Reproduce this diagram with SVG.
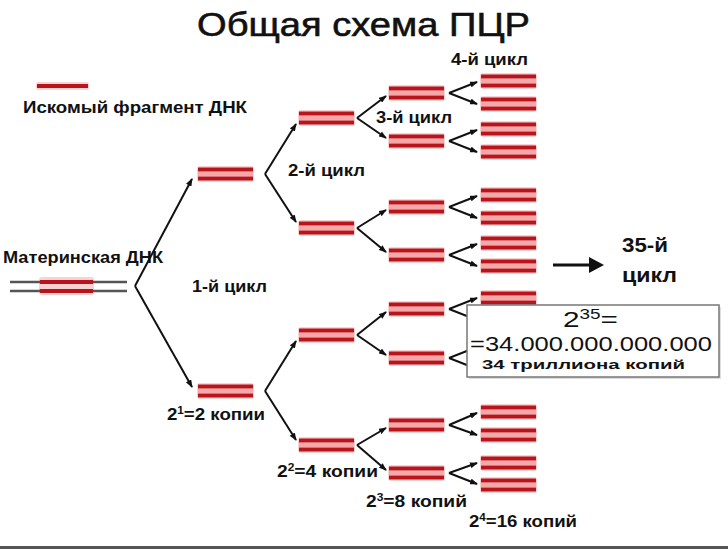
<svg xmlns="http://www.w3.org/2000/svg" xmlns:xlink="http://www.w3.org/1999/xlink" width="728" height="549" viewBox="0 0 728 549">
<style>
.t{font-family:"Liberation Sans",Arial,sans-serif;fill:#111}
.b{font-weight:bold}
.c{stroke:#111;stroke-width:2;fill:none;marker-end:url(#ah)}
.s{stroke:#b8141c;stroke-width:3.8}
.g{stroke:#555;stroke-width:2.5}
</style>
<defs>
<marker id="ah" markerUnits="userSpaceOnUse" markerWidth="8" markerHeight="6" refX="7" refY="3" orient="auto">
<path d="M0,0 L8,3 L0,6 z" fill="#111"/>
</marker>
<g id="frag">
<rect x="-1" y="-8" width="57" height="16" rx="3" fill="#fbd2d2"/>
<rect x="0" y="-2" width="55" height="4" fill="#f6a8a8"/>
<line class="s" x1="0" y1="-4.5" x2="55" y2="-4.5"/>
<line class="s" x1="0" y1="4.5" x2="55" y2="4.5"/>
</g>
</defs>
<rect width="728" height="549" fill="#fff"/>
<rect x="0" y="546" width="728" height="3" fill="#555"/>

<text class="t" x="197" y="36" font-size="34" stroke="#111" stroke-width="0.6" textLength="333" lengthAdjust="spacingAndGlyphs">Общая схема ПЦР</text>

<g id="legend">
<rect x="36" y="82" width="53" height="8" rx="2" fill="#fbd2d2"/>
<line class="s" x1="37" y1="86" x2="88" y2="86"/>
<text class="t b" x="23" y="113" font-size="16" textLength="224" lengthAdjust="spacingAndGlyphs">Искомый фрагмент ДНК</text>
</g>

<g id="mother">
<text class="t b" x="3" y="263" font-size="16" textLength="160" lengthAdjust="spacingAndGlyphs">Материнская ДНК</text>
<rect x="39" y="277" width="55" height="18" rx="3" fill="#fbd2d2"/>
<line class="g" x1="10" y1="282" x2="127" y2="282"/>
<line class="g" x1="10" y1="291" x2="127" y2="291"/>
<line class="s" x1="40" y1="282" x2="93" y2="282"/>
<line class="s" x1="40" y1="291" x2="93" y2="291"/>
</g>

<g id="connectors">
<path class="c" d="M135,286 L192,179"/>
<path class="c" d="M135,286 L192,387"/>
<path class="c" d="M265,174 L296,124"/>
<path class="c" d="M265,174 L296,222"/>
<path class="c" d="M265,391 L296,341"/>
<path class="c" d="M265,391 L296,440"/>
<path class="c" d="M357,118 L386,96"/>
<path class="c" d="M357,118 L386,138"/>
<path class="c" d="M357,228 L386,210"/>
<path class="c" d="M357,228 L386,252"/>
<path class="c" d="M357,335 L386,312"/>
<path class="c" d="M357,335 L386,355"/>
<path class="c" d="M357,445 L386,428"/>
<path class="c" d="M357,445 L386,470"/>
<path class="c" d="M449,93 L477,82"/>
<path class="c" d="M449,93 L477,104"/>
<path class="c" d="M449,141 L477,130"/>
<path class="c" d="M449,141 L477,152"/>
<path class="c" d="M449,207 L477,196"/>
<path class="c" d="M449,207 L477,218"/>
<path class="c" d="M449,255 L477,244"/>
<path class="c" d="M449,255 L477,266"/>
<path class="c" d="M449,309 L477,298"/>
<path class="c" d="M449,309 L477,320"/>
<path class="c" d="M449,358 L477,347"/>
<path class="c" d="M449,358 L477,369"/>
<path class="c" d="M449,425 L477,413"/>
<path class="c" d="M449,425 L477,435"/>
<path class="c" d="M449,473 L477,463"/>
<path class="c" d="M449,473 L477,484"/>
</g>

<g id="c1a"><use xlink:href="#frag" x="198" y="174"/></g>
<g id="c1b"><use xlink:href="#frag" x="198" y="391"/></g>
<g id="c2a"><use xlink:href="#frag" x="299" y="118"/></g>
<g id="c2b"><use xlink:href="#frag" x="299" y="228"/></g>
<g id="c2c"><use xlink:href="#frag" x="299" y="335"/></g>
<g id="c2d"><use xlink:href="#frag" x="299" y="445"/></g>
<g id="c3a"><use xlink:href="#frag" x="389" y="93"/></g>
<g id="c3b"><use xlink:href="#frag" x="389" y="141"/></g>
<g id="c3c"><use xlink:href="#frag" x="389" y="207"/></g>
<g id="c3d"><use xlink:href="#frag" x="389" y="255"/></g>
<g id="c3e"><use xlink:href="#frag" x="389" y="309"/></g>
<g id="c3f"><use xlink:href="#frag" x="389" y="358"/></g>
<g id="c3g"><use xlink:href="#frag" x="389" y="425"/></g>
<g id="c3h"><use xlink:href="#frag" x="389" y="473"/></g>
<g id="c4a"><use xlink:href="#frag" x="481" y="81"/></g>
<g id="c4b"><use xlink:href="#frag" x="481" y="104"/></g>
<g id="c4c"><use xlink:href="#frag" x="481" y="129"/></g>
<g id="c4d"><use xlink:href="#frag" x="481" y="152"/></g>
<g id="c4e"><use xlink:href="#frag" x="481" y="195"/></g>
<g id="c4f"><use xlink:href="#frag" x="481" y="218"/></g>
<g id="c4g"><use xlink:href="#frag" x="481" y="243"/></g>
<g id="c4h"><use xlink:href="#frag" x="481" y="266"/></g>
<g id="c4i"><use xlink:href="#frag" x="481" y="298"/></g>
<g id="c4m"><use xlink:href="#frag" x="481" y="412"/></g>
<g id="c4n"><use xlink:href="#frag" x="481" y="435"/></g>
<g id="c4o"><use xlink:href="#frag" x="481" y="463"/></g>
<g id="c4p"><use xlink:href="#frag" x="481" y="485"/></g>

<g id="labels">
<text class="t b" x="192" y="292" font-size="16" textLength="75" lengthAdjust="spacingAndGlyphs">1-й цикл</text>
<text class="t b" x="288" y="176" font-size="16" textLength="77" lengthAdjust="spacingAndGlyphs">2-й цикл</text>
<text class="t b" x="376" y="123" font-size="16" textLength="76" lengthAdjust="spacingAndGlyphs">3-й цикл</text>
<text class="t b" x="451" y="65" font-size="16" textLength="77" lengthAdjust="spacingAndGlyphs">4-й цикл</text>
<text class="t b" x="167" y="420" font-size="16" textLength="98" lengthAdjust="spacingAndGlyphs">2<tspan font-size="10" dy="-6">1</tspan><tspan dy="6">=2 копии</tspan></text>
<text class="t b" x="277" y="477" font-size="16" textLength="101" lengthAdjust="spacingAndGlyphs">2<tspan font-size="10" dy="-6">2</tspan><tspan dy="6">=4 копии</tspan></text>
<text class="t b" x="366" y="507" font-size="16" textLength="101" lengthAdjust="spacingAndGlyphs">2<tspan font-size="10" dy="-6">3</tspan><tspan dy="6">=8 копий</tspan></text>
<text class="t b" x="469" y="527" font-size="16" textLength="108" lengthAdjust="spacingAndGlyphs">2<tspan font-size="10" dy="-6">4</tspan><tspan dy="6">=16 копий</tspan></text>
</g>

<g id="cycle35">
<line x1="553" y1="265" x2="592" y2="265" stroke="#111" stroke-width="3"/>
<path d="M589,257 L604,265 L589,273 z" fill="#111"/>
<text class="t b" x="622" y="252" font-size="21" textLength="46" lengthAdjust="spacingAndGlyphs">35-й</text>
<text class="t b" x="622" y="282" font-size="21" textLength="55" lengthAdjust="spacingAndGlyphs">цикл</text>
</g>

<g id="result">
<rect x="469" y="307" width="252" height="72" fill="#ddd"/>
<rect x="467" y="305" width="252" height="72" fill="#fff" stroke="#777" stroke-width="1.5"/>
<text class="t" x="563" y="327" font-size="22" textLength="55" lengthAdjust="spacingAndGlyphs">2<tspan font-size="14" dy="-8">35</tspan><tspan dy="8">=</tspan></text>
<text class="t" x="470" y="351" font-size="21" textLength="242" lengthAdjust="spacingAndGlyphs">=34.000.000.000.000</text>
<text class="t b" x="482" y="369" font-size="13" textLength="203" lengthAdjust="spacingAndGlyphs">34 триллиона копий</text>
</g>
</svg>
